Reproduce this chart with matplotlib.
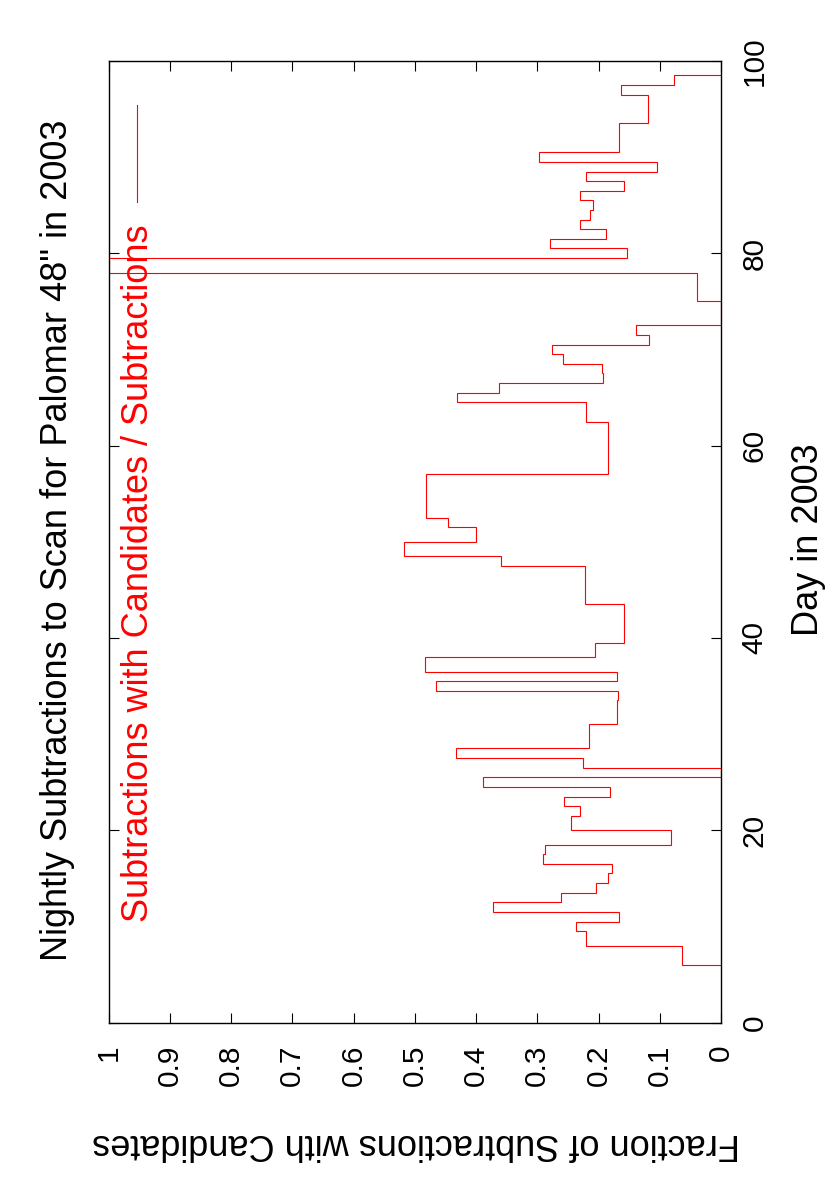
import matplotlib
matplotlib.use('Agg')
import matplotlib.pyplot as plt

# day boundaries of each step and the fraction for that step
day_edges = [6, 8, 9.5, 10.5, 11.5, 12.5, 13.5, 14.5, 15.5, 16.5,
             17.5, 18.5, 20, 21.5, 22.5, 23.5, 24.5, 25.5, 26.5, 27.5,
             28.5, 31, 33.5, 34.5, 35.5, 36.5, 38, 39.5, 43.5, 47.5,
             48.5, 50, 51.5, 52.5, 57, 62.5, 64.5, 65.5, 66.5, 67.5,
             68.5, 69.5, 70.5, 71.5, 72.5, 75, 78, 79.5, 80.5, 81.5,
             82.5, 83.5, 84.5, 85.5, 86.5, 87.5, 88.5, 89.5, 90.5, 93.5,
             96.5, 97.5, 98.5]
fraction = [0.064, 0.220, 0.236, 0.167, 0.372, 0.261, 0.204, 0.184, 0.178,
            0.291, 0.288, 0.081, 0.245, 0.230, 0.256, 0.182, 0.388, 0.0,
            0.225, 0.433, 0.215, 0.170, 0.168, 0.466, 0.170, 0.483, 0.206,
            0.159, 0.222, 0.360, 0.518, 0.400, 0.445, 0.481, 0.184, 0.221,
            0.431, 0.362, 0.192, 0.194, 0.258, 0.276, 0.118, 0.138, 0.0,
            0.040, 1.0, 0.154, 0.280, 0.188, 0.230, 0.214, 0.2085, 0.230,
            0.158, 0.220, 0.104, 0.297, 0.166, 0.120, 0.163, 0.077]

frac_ticks = [0, 0.1, 0.2, 0.3, 0.4, 0.5, 0.6, 0.7, 0.8, 0.9, 1]
frac_labels = ['0', '0.1', '0.2', '0.3', '0.4', '0.5', '0.6', '0.7', '0.8', '0.9', '1']
day_ticks = [0, 20, 40, 60, 80, 100]

plt.rcParams['font.family'] = ['Liberation Sans', 'DejaVu Sans']

W, H = 830, 1186
fig = plt.figure(figsize=(W / 100, H / 100), dpi=100)
ax = fig.add_axes([108.5 / W, 1 - 1022.5 / H, (721 - 108.5) / W, (1022.5 - 61) / H])

# gnuplot page is rotated: fraction runs right->left, day runs bottom->top
ax.stairs(fraction, day_edges, orientation='horizontal', baseline=0,
          color='#ff0000', lw=0.8)
ax.set_xlim(1, 0)
ax.set_ylim(0, 100)

for sp in ax.spines.values():
    sp.set_linewidth(1.0)

ax.set_xticks(frac_ticks, frac_labels)
ax.set_yticks(day_ticks, [str(d) for d in day_ticks])
ax.tick_params(axis='x', direction='in', top=True, bottom=True, length=7.2,
               width=0.8, labelsize=21.5, labelrotation=90, pad=16)
ax.tick_params(axis='y', direction='in', left=True, right=True, labelleft=False,
               labelright=True, length=7.2, width=0.8, labelsize=21.5,
               labelrotation=90, pad=14)
for lbl in ax.get_yticklabels():
    lbl.set_verticalalignment('center')

# titles and axis labels, placed by baseline
fig.text(67 / W, 1 - 540 / H, 'Nightly Subtractions to Scan for Palomar 48" in 2003',
         rotation=90, rotation_mode='anchor', ha='center', va='baseline', fontsize=26)
fig.text(818 / W, 1 - 540 / H, 'Day in 2003', rotation=90, rotation_mode='anchor',
         ha='center', va='baseline', fontsize=26)
fig.text(416 / W, 1 - 1133.5 / H, 'Fraction of Subtractions with Candidates',
         rotation=180, rotation_mode='anchor', ha='center', va='baseline', fontsize=26)

# key
fig.text(148 / W, 1 - 225 / H, 'Subtractions with Candidates / Subtractions',
         rotation=90, rotation_mode='anchor', ha='right', va='baseline',
         fontsize=26, color='#ff0000')
ax.plot([0.046, 0.046], [0.853, 0.954], transform=ax.transAxes,
        color='#ff0000', lw=0.8)

fig.savefig('out.png', dpi=100)
